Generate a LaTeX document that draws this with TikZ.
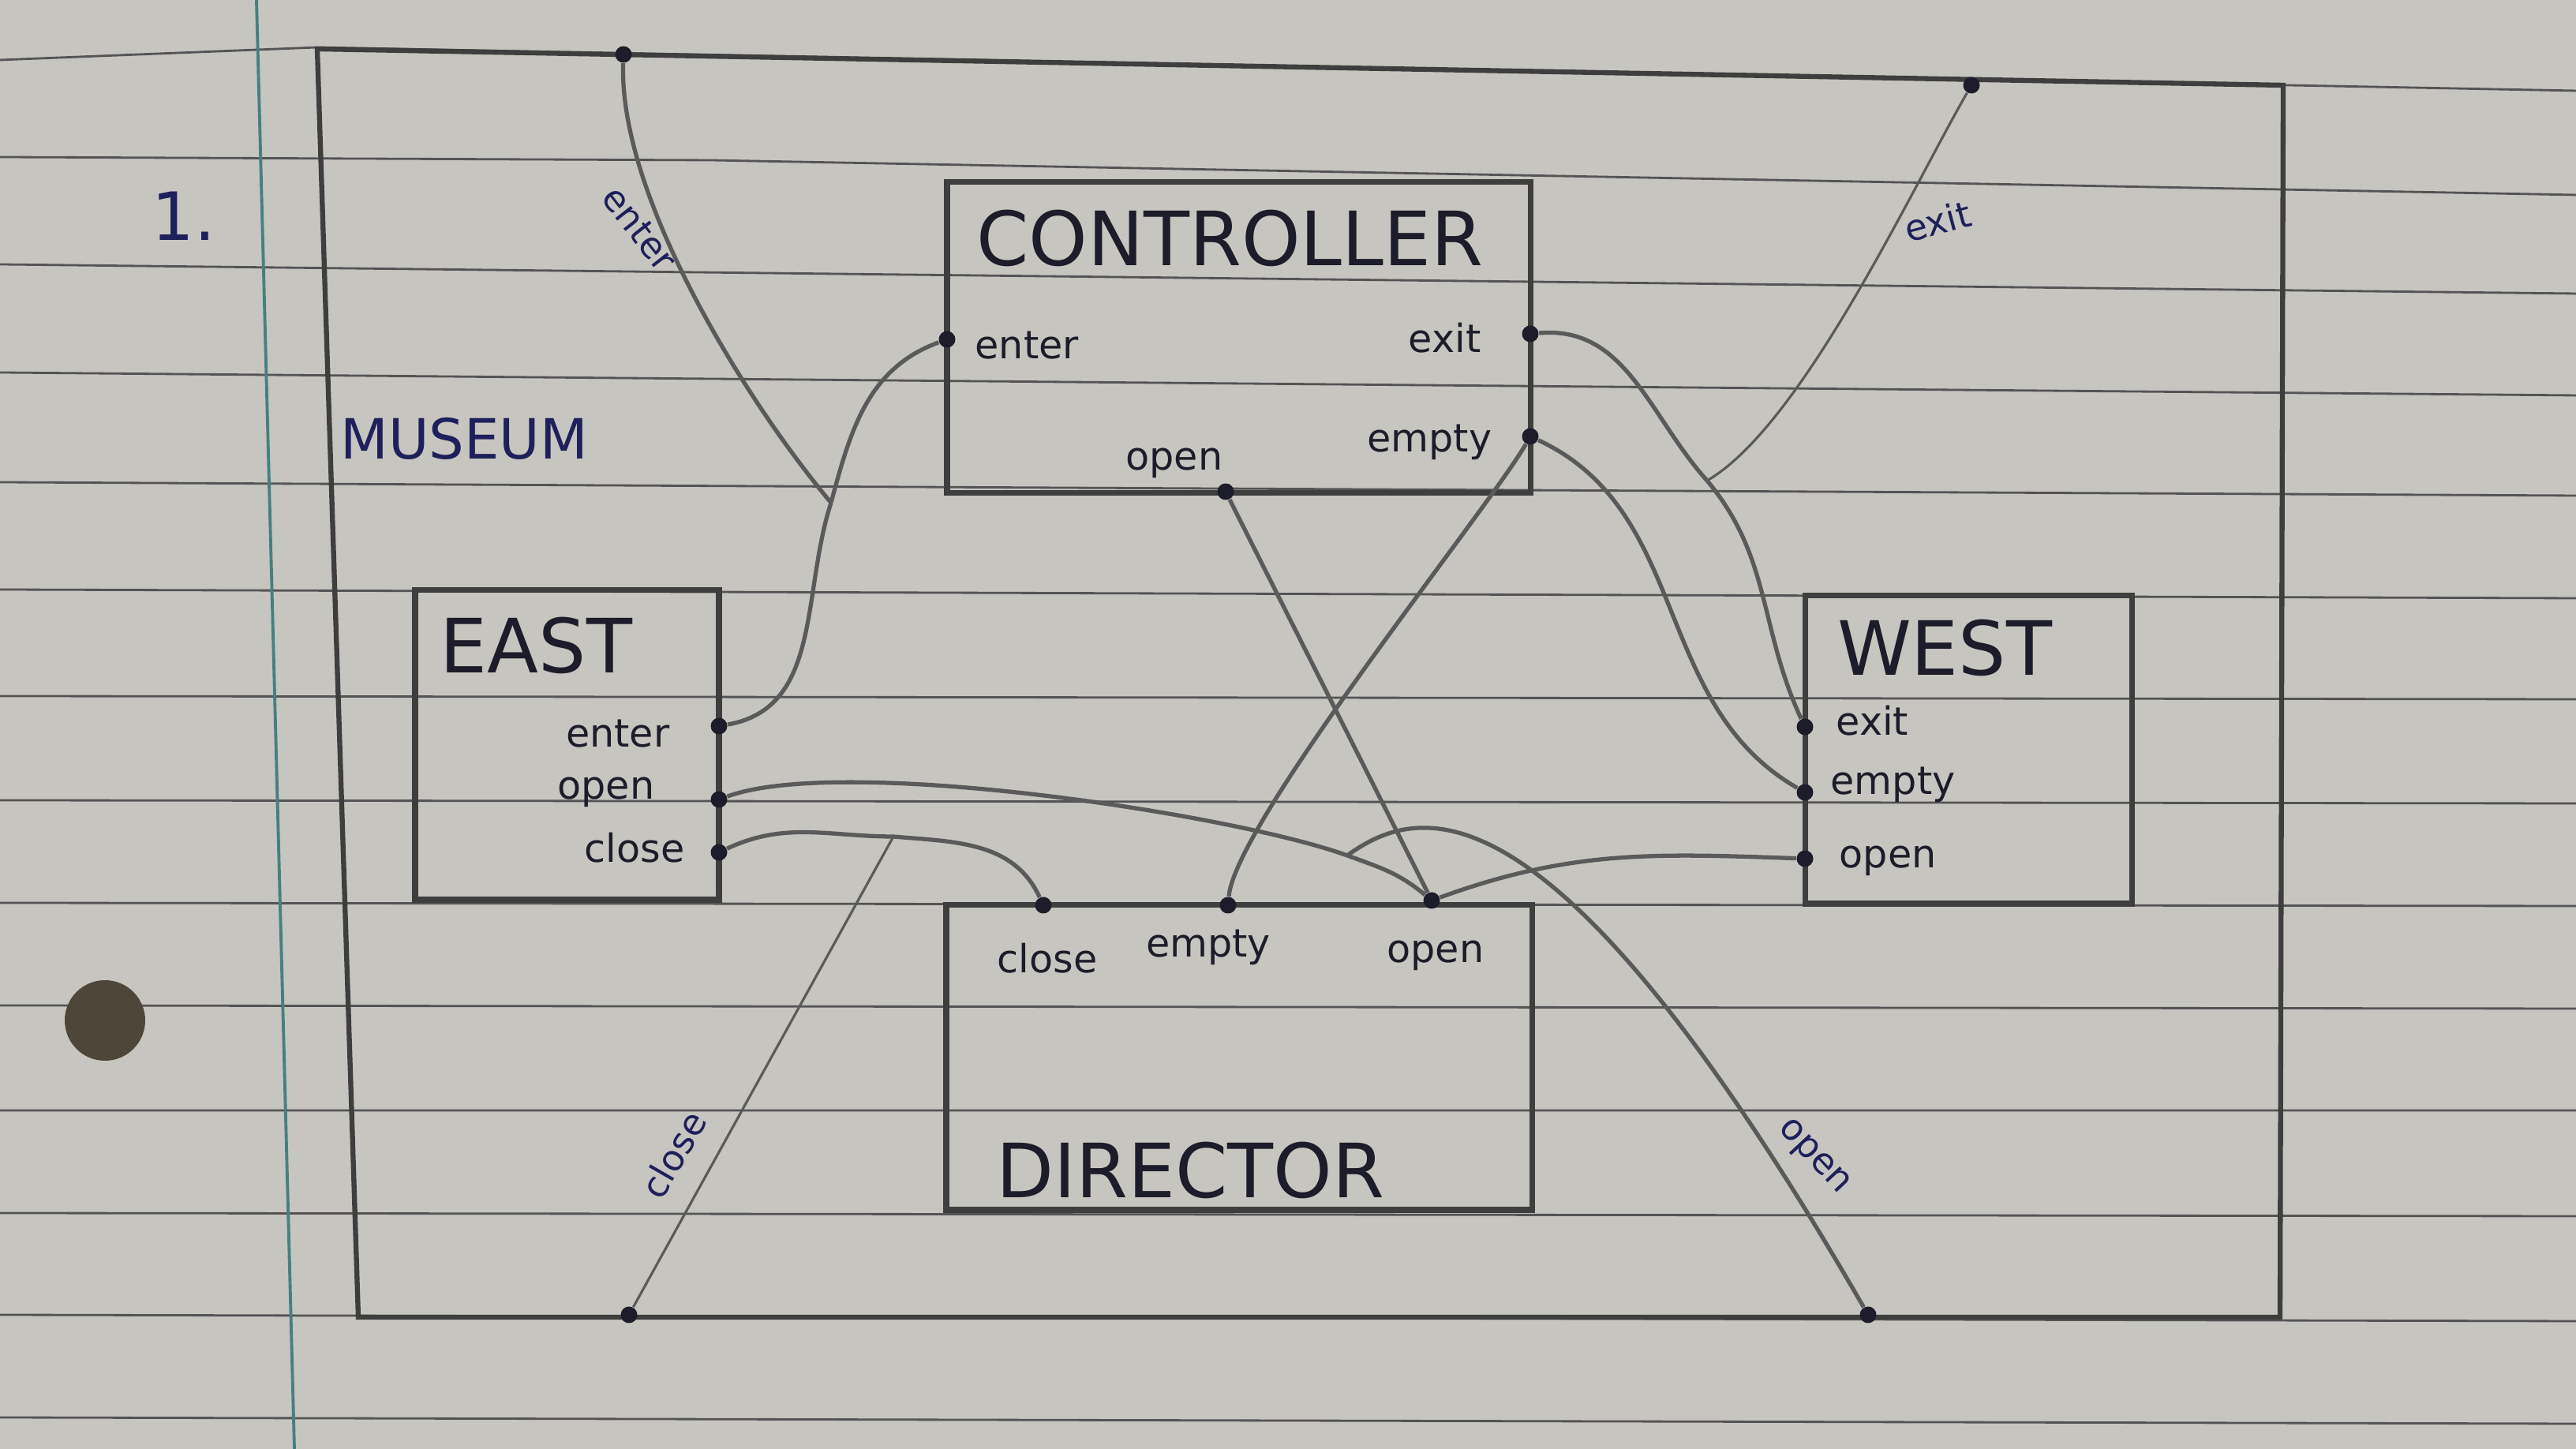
\documentclass[tikz,border=0pt]{standalone}
\usepackage{fontspec}
\setmainfont{DejaVu Sans}
\usepackage{xcolor}
\usepackage{tikz}
\usetikzlibrary{positioning}

\definecolor{paper}{RGB}{199,197,191}
\definecolor{ruling}{RGB}{84,84,86}
\definecolor{margin}{RGB}{70,128,128}
\definecolor{pencil}{RGB}{62,62,62}
\definecolor{lead}{RGB}{90,90,90}
\definecolor{ink}{RGB}{28,28,42}
\definecolor{navy}{RGB}{30,32,92}
\definecolor{punch}{RGB}{78,70,56}

\begin{document}
\begin{tikzpicture}[
	box/.style={draw=pencil,line width=2pt,inner sep=0pt},
	boxname/.style={text=ink,inner sep=0pt,font=\fontsize{27}{30}\selectfont},
	plab/.style={text=ink,inner sep=0pt,font=\fontsize{14}{16}\selectfont},
	wlab/.style={text=navy,inner sep=0pt,font=\fontsize{13}{15}\selectfont},
	port/.style={circle,fill=ink,inner sep=0pt,minimum size=0.21cm},
	wire/.style={draw=lead,line width=1.5pt},
	thinwire/.style={draw=lead,line width=0.9pt}]
	\useasboundingbox (0,0) rectangle (32.64,18.36);
	\fill[paper] (0,0) rectangle (32.64,18.36);
	\draw[ruling,line width=0.8pt]
	(0,17.60) -- (4.02,17.76) -- (32.64,17.21) (0,16.37) -- (9,16.33) -- (32.64,15.89)
	(0,15.01) -- (32.64,14.64) (0,13.64) -- (32.64,13.35)
	(0,12.25) -- (32.64,12.08) (0,10.89) -- (32.64,10.78)
	(0,9.54) -- (32.64,9.50) (0,8.22) -- (32.64,8.18)
	(0,6.92) -- (32.64,6.88) (0,5.62) -- (32.64,5.58)
	(0,4.29) -- (32.64,4.29) (0,2.99) -- (32.64,2.95)
	(0,1.70) -- (32.64,1.62) (0,0.40) -- (32.64,0.32);
	\draw[margin,line width=1.1pt] (3.25,18.36) -- (3.73,0);
	\fill[punch] (1.33,5.43) circle (0.51);
	\node[anchor=base west,text=navy,font=\fontsize{24}{26}\selectfont] at (1.80,15.31) (num) {1.};

	\coordinate (mTL) at (4.02,17.74);
	\coordinate (mTR) at (28.93,17.28);
	\coordinate (mBR) at (28.89,1.67);
	\coordinate (mBL) at (4.54,1.67);
	\draw[pencil,line width=1.8pt] (mTL) -- (mTR) -- (mBR) -- (mBL) -- cycle;
	\node[text=navy,inner sep=0pt,font=\fontsize{20}{22}\selectfont] at (5.88,12.80) (tMuseum) {MUSEUM};

	\node[box,minimum width=7.39cm,minimum height=3.94cm] at (15.695,14.08) (ctrl) {};
	\node[box,minimum width=7.42cm,minimum height=3.86cm] at (15.70,4.96) (dir) {};
	\node[box,minimum width=3.85cm,minimum height=3.92cm] at (7.185,8.92) (east) {};
	\node[box,minimum width=4.14cm,minimum height=3.90cm] at (24.94,8.86) (west) {};

	\node[boxname] at (15.585,15.34) (tCtrl) {CONTROLLER};
	\node[boxname] at (15.085,3.53) (tDir) {DIRECTOR};
	\node[boxname] at (6.795,10.18) (tEast) {EAST};
	\node[boxname] at (24.64,10.15) (tWest) {WEST};

	\node[port] at (7.90,17.67) (mEnter) {};
	\node[port] at (24.98,17.28) (mExit) {};
	\node[port] at (7.97,1.70) (mClose) {};
	\node[port] at (23.67,1.70) (mOpen) {};
	\node[port] at (12.00,14.06) (cEnter) {};
	\node[port] at (19.39,14.13) (cExit) {};
	\node[port] at (19.39,12.83) (cEmpty) {};
	\node[port] at (15.53,12.13) (cOpen) {};
	\node[port] at (9.11,9.16) (eEnter) {};
	\node[port] at (9.11,8.23) (eOpen) {};
	\node[port] at (9.11,7.56) (eClose) {};
	\node[port] at (22.87,9.15) (wExit) {};
	\node[port] at (22.87,8.32) (wEmpty) {};
	\node[port] at (22.87,7.48) (wOpen) {};
	\node[port] at (13.22,6.89) (dClose) {};
	\node[port] at (15.56,6.89) (dEmpty) {};
	\node[port] at (18.14,6.95) (dOpen) {};

	\coordinate (jEnter) at (10.53,11.99);
	\coordinate (jExit) at (21.63,12.27);
	\coordinate (jClose) at (11.32,7.76);
	\coordinate (jOpen) at (17.07,7.52);

	\path[wire]
	(eEnter) edge[out=10,in=252] (jEnter)
	(jEnter) edge[out=75,in=200] (cEnter)
	(mEnter) edge[out=-92,in=130,looseness=0.7] (jEnter)
	(cExit) edge[out=5,in=132] (jExit)
	(jExit) edge[out=-50,in=115] (wExit)
	(cEmpty) edge[out=-25,in=150] (wEmpty)
	(cEmpty) edge[out=240,in=85,looseness=0.35] (dEmpty)
	(cOpen) edge (dOpen)
	(eOpen) edge[out=20,in=160,looseness=0.5] (jOpen)
	(jOpen) edge[out=-20,in=140] (dOpen)
	(mOpen) edge[out=120,in=36,out distance=7.85cm,in distance=1.15cm] (jOpen)
	(dOpen) edge[out=20,in=178] (wOpen)
	(eClose) edge[out=25,in=180] (jClose)
	(jClose) edge[out=-5,in=115] (dClose);
	\path[thinwire]
	(mExit) edge[out=240,in=30,looseness=0.6] (jExit)
	(mClose) edge (jClose);

	\node[plab,anchor=base west] at (12.35,13.81) (lcEnter) {enter};
	\node[plab,anchor=base east] at (18.77,13.89) (lcExit) {exit};
	\node[plab,anchor=base east] at (15.50,12.40) (lcOpen) {open};
	\node[plab,anchor=base east] at (18.91,12.63) (lcEmpty) {empty};
	\node[plab,anchor=base] at (13.27,6.03) (ldClose) {close};
	\node[plab,anchor=base] at (15.31,6.23) (ldEmpty) {empty};
	\node[plab,anchor=base] at (18.19,6.16) (ldOpen) {open};
	\node[plab,anchor=base east] at (8.49,8.89) (leEnter) {enter};
	\node[plab,anchor=base east] at (8.30,8.23) (leOpen) {open};
	\node[plab,anchor=base east] at (8.68,7.43) (leClose) {close};
	\node[plab,anchor=base west] at (23.26,9.04) (lwExit) {exit};
	\node[plab,anchor=base west] at (23.19,8.29) (lwEmpty) {empty};
	\node[plab,anchor=base west] at (23.30,7.36) (lwOpen) {open};

	\node[wlab,rotate=-52] at (8.10,15.46) (lmEnter) {enter};
	\node[wlab,rotate=15] at (24.55,15.56) (lmExit) {exit};
	\node[wlab,rotate=60] at (8.53,3.73) (lmClose) {close};
	\node[wlab,rotate=-47] at (22.97,3.69) (lmOpen) {open};
\end{tikzpicture}
\end{document}
